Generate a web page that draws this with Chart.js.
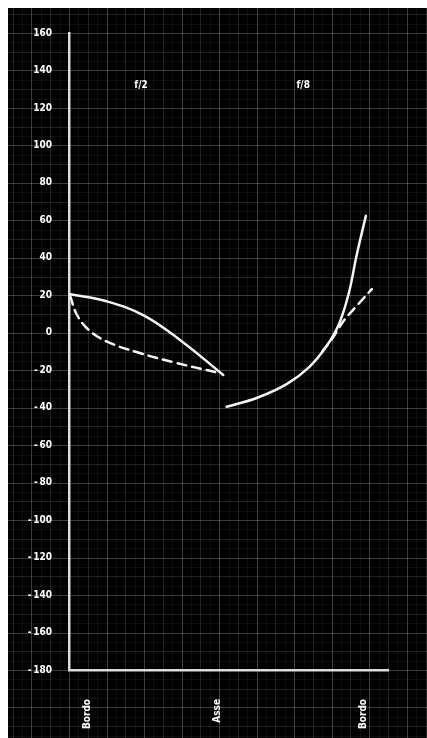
<!DOCTYPE html>
<html>
<head>
<meta charset="utf-8">
<script src="https://cdn.jsdelivr.net/npm/chart.js@4/dist/chart.umd.min.js"></script>
<style>
  html, body { margin: 0; padding: 0; background: #ffffff; }
  #c { display: block; }
</style>
</head>
<body>
<canvas id="c" width="427" height="738"></canvas>
<script>
// ---- data (x in grid units from the left edge "Bordo", y in the chart's units) ----
const yTicksMin = -180;
const yTicksMax = 160;
const yStep = 20;

const xTickLabels = ['Bordo', 'Asse', 'Bordo'];
const xTickPos = [0.5, 3.95, 7.85];

const panelTitles = ['f/2', 'f/8'];
const panelTitleX = [1.92, 6.24];
const panelTitleY = [132, 132];

// f/2 solid
const f2SolidX = [0.03, 1.0, 2.0, 3.0, 4.11];
const f2SolidY = [20.6, 16.8, 9.2, -4.5, -22.5];
// f/2 dashed
const f2DashX = [0.03, 0.2, 0.5, 1.0, 1.8, 2.8, 3.97];
const f2DashY = [19.7, 10, 2.0, -4.6, -10.3, -15.8, -21.3];
// f/8 solid
const f8SolidX = [4.2, 5.0, 5.8, 6.4, 6.85, 7.2, 7.46, 7.66, 7.91];
const f8SolidY = [-39.5, -34.8, -27.4, -18.3, -7.5, 5, 21.5, 41, 62.4];
// f/8 dashed
const f8DashX = [6.75, 7.0, 7.32, 7.67, 8.07];
const f8DashY = [-10, -3.5, 6.4, 14.4, 23.3];

const pts = (xs, ys) => xs.map((x, i) => ({ x: x, y: ys[i] }));

const FONT = "'DejaVu Sans Condensed', 'DejaVu Sans', sans-serif";

const paperPlugin = {
  id: 'paper',
  beforeDraw(chart) {
    const ctx = chart.ctx;
    const xs = chart.scales.x, ys = chart.scales.y;
    const L = 8, T = 8, R = chart.width, B = chart.height;
    ctx.save();
    ctx.fillStyle = '#000000';
    ctx.fillRect(L, T, R - L, B - T);
    ctx.lineWidth = 1;
    // horizontal lines every 5 units
    for (let v = -260; v <= 240; v += 5) {
      const p = Math.round(ys.getPixelForValue(v)) + 0.5;
      if (p < T || p > B) continue;
      ctx.strokeStyle = (v % 20 === 0) ? 'rgba(255,255,255,0.24)' : (v % 10 === 0 ? 'rgba(255,255,255,0.13)' : 'rgba(255,255,255,0.05)');
      ctx.beginPath(); ctx.moveTo(L, p); ctx.lineTo(R, p); ctx.stroke();
    }
    // vertical lines every 0.25 units
    for (let k = -12; k <= 48; k++) {
      const v = k * 0.25;
      const p = Math.round(xs.getPixelForValue(v)) + 0.5;
      if (p < L || p > R) continue;
      ctx.strokeStyle = (k % 4 === 0) ? 'rgba(255,255,255,0.24)' : (k % 2 === 0 ? 'rgba(255,255,255,0.13)' : 'rgba(255,255,255,0.05)');
      ctx.beginPath(); ctx.moveTo(p, T); ctx.lineTo(p, B); ctx.stroke();
    }
    ctx.restore();
  },
  afterDraw(chart) {
    const ctx = chart.ctx;
    const xs = chart.scales.x, ys = chart.scales.y;
    ctx.save();
    ctx.fillStyle = '#ffffff';
    ctx.font = 'bold 10px ' + FONT;
    ctx.textAlign = 'center';
    ctx.textBaseline = 'middle';
    panelTitles.forEach((t, i) => {
      ctx.fillText(t, xs.getPixelForValue(panelTitleX[i]), ys.getPixelForValue(panelTitleY[i]));
    });
    ctx.restore();
  }
};

const lineStyle = (data, dashed) => ({
  data: data,
  borderColor: '#f4f4f4',
  borderWidth: 2.5,
  borderDash: dashed ? [9, 6] : [],
  pointRadius: 0,
  fill: false,
  tension: 0.4,
  borderCapStyle: 'round'
});

new Chart(document.getElementById('c'), {
  type: 'line',
  data: {
    datasets: [
      lineStyle(pts(f2SolidX, f2SolidY), false),
      lineStyle(pts(f2DashX, f2DashY), true),
      lineStyle(pts(f8SolidX, f8SolidY), false),
      lineStyle(pts(f8DashX, f8DashY), true)
    ]
  },
  options: {
    responsive: false,
    animation: false,
    devicePixelRatio: 1,
    layout: { padding: { left: 0, top: 33, right: 39, bottom: 0 } },
    plugins: { legend: { display: false }, tooltip: { enabled: false } },
    scales: {
      x: {
        type: 'linear',
        min: 0,
        max: 8.5,
        grid: { display: false },
        border: { display: true, color: '#dcdcdc', width: 2.5 },
        afterFit: s => { s.height = 68; },
        afterBuildTicks: s => { s.ticks = xTickPos.map(v => ({ value: v })); },
        ticks: {
          autoSkip: false,
          minRotation: 90,
          maxRotation: 90,
          padding: 21,
          color: '#ffffff',
          font: { family: FONT, size: 10, weight: 'bold' },
          callback: (v, i) => xTickLabels[i]
        }
      },
      y: {
        type: 'linear',
        min: yTicksMin,
        max: yTicksMax,
        grid: { display: false },
        border: { display: true, color: '#dcdcdc', width: 2.5 },
        afterFit: s => { s.width = 69; },
        ticks: {
          stepSize: yStep,
          padding: 9,
          color: '#ffffff',
          font: { family: FONT, size: 10, weight: 'bold' },
          callback: v => (v < 0 ? '-\u2009' + Math.abs(v) : String(v))
        }
      }
    }
  },
  plugins: [paperPlugin]
});
</script>
</body>
</html>
